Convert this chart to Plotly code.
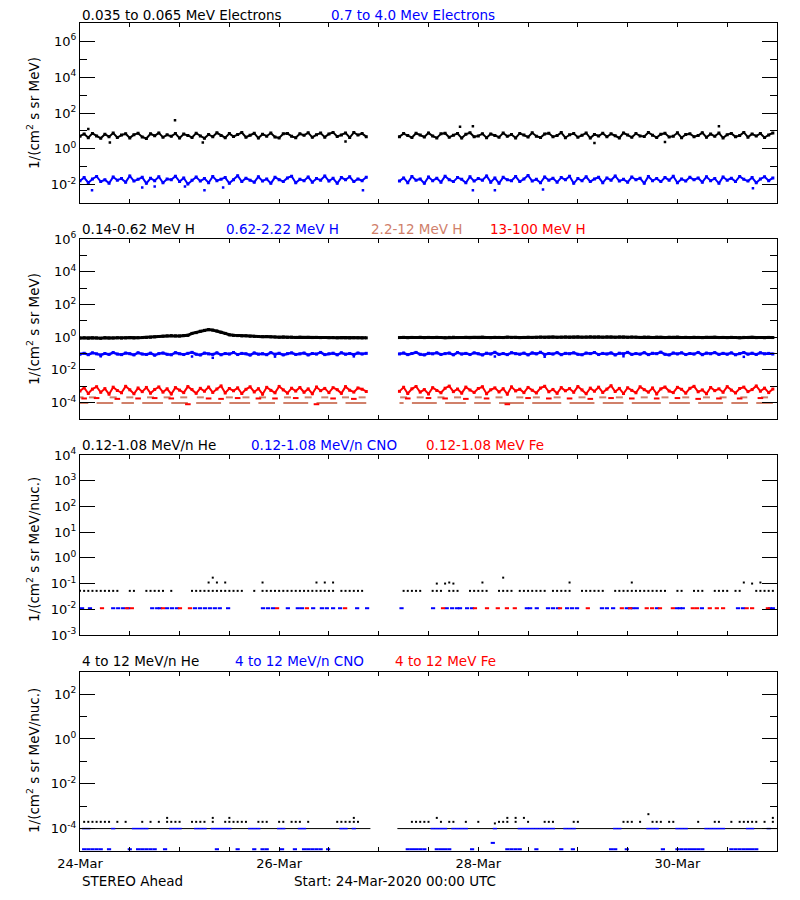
import plotly.graph_objects as go
import pandas as pd

# ---------------------------------------------------------------- data
START = pd.Timestamp("2020-03-24 00:00")
END = pd.Timestamp("2020-03-31 00:00")
SEG_A_START_H = 0      # first data block starts 24-Mar 00:00 (hourly)
SEG_B_START_H = 77     # second block starts after data gap (27-Mar 05:00)

# Panel 1: electrons, 1/(cm2 s sr MeV)
e_low_a = [5.1, 6.8, 4.2, 7.3, 5.3, 3.9, 6.6, 4.8, 7.6, 4.3,
           5.9, 7.0, 4.1, 6.2, 7.4, 4.6, 3.8, 6.9, 5.4, 7.8,
           4.4, 6.1, 5.0, 7.2, 4.0, 6.7, 5.6, 4.3, 7.5, 5.2,
           3.9, 6.4, 4.7, 7.9, 5.5, 4.2, 7.1, 4.9, 6.3, 8.1,
           4.5, 5.8, 7.4, 4.0, 6.6, 5.1, 7.7, 4.6, 4.1, 6.9,
           7.3, 5.0, 4.2, 7.0, 5.7, 8.0, 4.4, 6.2, 7.6, 4.5,
           6.8, 8.3, 4.9, 6.0, 7.8, 4.3, 8.2, 5.9, 7.1, 4.8]
e_low_b = [4.8, 7.1, 5.5, 4.3, 7.4, 6.0, 4.6, 7.8, 5.2, 4.1,
           6.9, 7.5, 4.4, 5.8, 7.2, 4.0, 6.5, 8.0, 4.7, 5.3,
           7.0, 4.2, 6.8, 5.6, 4.5, 7.6, 5.0, 6.3, 4.1, 7.3,
           5.9, 4.6, 7.9, 5.1, 4.3, 6.7, 7.4, 4.8, 5.5, 8.1,
           4.2, 6.1, 7.2, 4.5, 5.7, 7.7, 4.0, 6.4, 5.2, 7.5,
           4.7, 6.9, 5.4, 4.1, 7.8, 6.0, 4.4, 7.1, 5.3, 4.9,
           8.2, 5.8, 4.3, 6.6, 7.4, 4.6, 5.1, 7.9, 4.2, 6.3,
           7.0, 4.8, 5.6, 8.0, 4.4, 6.7, 5.0, 7.6, 4.1, 6.2,
           7.3, 4.7, 5.5, 8.3, 4.5, 6.8, 5.2, 7.2, 4.3, 6.0,
           7.7]
e_low_out_h = [2, 7.2, 22.9, 29.6, 64, 91.6, 94.7, 124, 141, 154]
e_low_out_v = [13, 2.3, 39, 2.3, 2.6, 17, 18, 2.1, 2.4, 18]

e_high_a = [0.017, 0.025, 0.013, 0.021, 0.029, 0.015, 0.019, 0.012, 0.027, 0.018,
            0.022, 0.014, 0.031, 0.016, 0.020, 0.026, 0.012, 0.023, 0.017, 0.028,
            0.013, 0.021, 0.019, 0.030, 0.015, 0.024, 0.011, 0.018, 0.027, 0.016,
            0.022, 0.013, 0.029, 0.017, 0.020, 0.025, 0.012, 0.019, 0.032, 0.015,
            0.023, 0.018, 0.014, 0.028, 0.016, 0.021, 0.012, 0.026, 0.019, 0.015,
            0.024, 0.030, 0.013, 0.020, 0.017, 0.027, 0.014, 0.022, 0.018, 0.031,
            0.016, 0.023, 0.012, 0.025, 0.019, 0.028, 0.015, 0.021, 0.017, 0.026]
e_high_b = [0.016, 0.024, 0.013, 0.029, 0.018, 0.021, 0.012, 0.027, 0.017, 0.023,
            0.014, 0.030, 0.019, 0.015, 0.025, 0.020, 0.013, 0.028, 0.016, 0.022,
            0.018, 0.031, 0.014, 0.024, 0.012, 0.026, 0.019, 0.017, 0.029, 0.015,
            0.021, 0.033, 0.016, 0.020, 0.013, 0.027, 0.018, 0.023, 0.014, 0.025,
            0.019, 0.030, 0.012, 0.022, 0.017, 0.028, 0.015, 0.021, 0.026, 0.013,
            0.024, 0.018, 0.031, 0.016, 0.020, 0.014, 0.027, 0.019, 0.023, 0.012,
            0.029, 0.017, 0.022, 0.015, 0.025, 0.018, 0.030, 0.013, 0.021, 0.016,
            0.026, 0.019, 0.024, 0.014, 0.028, 0.017, 0.022, 0.012, 0.027, 0.018,
            0.023, 0.015, 0.029, 0.020, 0.016, 0.025, 0.013, 0.021, 0.028, 0.017,
            0.024]
e_high_out_h = [2.9, 15, 18, 25.3, 30, 34.5, 68.2, 94.7, 100, 111.6, 162.2]
e_high_out_v = [0.005, 0.007, 0.008, 0.008, 0.005, 0.007, 0.005, 0.005, 0.005, 0.0055, 0.0063]

# Panel 2: protons
h1_a = [0.88, 0.92, 0.87, 0.91, 0.90, 0.86, 0.93, 0.89, 0.90, 0.92,
        0.88, 0.91, 0.94, 0.90, 0.93, 0.95, 0.97, 1.00, 1.05, 1.10,
        1.15, 1.20, 1.25, 1.20, 1.18, 1.25, 1.30, 1.70, 1.90, 2.30,
        2.60, 2.90, 2.70, 2.40, 2.00, 1.70, 1.40, 1.30, 1.25, 1.20,
        1.22, 1.15, 1.12, 1.10, 1.08, 1.10, 1.05, 1.03, 1.00, 1.02,
        0.98, 1.00, 0.97, 0.99, 0.96, 0.98, 0.95, 0.97, 0.94, 0.96,
        0.93, 0.95, 0.92, 0.94, 0.93, 0.91, 0.93, 0.92, 0.90, 0.91]
h1_b = [0.95, 0.98, 0.93, 0.97, 0.96, 0.99, 0.94, 0.97, 0.95, 0.98,
        0.96, 0.93, 0.97, 0.99, 0.95, 0.96, 0.98, 0.94, 0.97, 0.95,
        0.99, 0.96, 0.94, 0.98, 0.97, 0.95, 1.00, 0.96, 0.98, 0.94,
        0.97, 0.99, 0.96, 0.98, 1.01, 0.97, 0.99, 1.02, 0.98, 1.00,
        1.03, 0.99, 1.01, 1.04, 1.00, 1.02, 1.05, 1.01, 1.03, 1.00,
        1.04, 1.02, 0.99, 1.03, 1.01, 0.98, 1.02, 1.00, 0.97, 1.01,
        0.99, 0.96, 1.00, 0.98, 0.95, 0.99, 0.97, 1.00, 0.96, 0.98,
        0.95, 0.99, 0.97, 0.94, 0.98, 0.96, 0.99, 0.95, 0.97, 0.94,
        0.98, 0.96, 0.93, 0.97, 0.95, 0.98, 0.94, 0.96, 0.93, 0.97,
        0.95]

h2_a = [0.092, 0.104, 0.085, 0.110, 0.096, 0.081, 0.101, 0.089, 0.115, 0.093,
        0.086, 0.107, 0.098, 0.083, 0.112, 0.094, 0.088, 0.105, 0.079, 0.099,
        0.108, 0.090, 0.084, 0.113, 0.097, 0.087, 0.103, 0.118, 0.091, 0.082,
        0.106, 0.095, 0.089, 0.111, 0.084, 0.100, 0.093, 0.116, 0.087, 0.102,
        0.096, 0.081, 0.109, 0.092, 0.098, 0.085, 0.114, 0.090, 0.104, 0.083,
        0.099, 0.110, 0.088, 0.095, 0.107, 0.082, 0.101, 0.093, 0.117, 0.086,
        0.097, 0.105, 0.084, 0.112, 0.091, 0.100, 0.087, 0.108, 0.094, 0.103]
h2_b = [0.095, 0.108, 0.086, 0.101, 0.117, 0.090, 0.083, 0.104, 0.096, 0.112,
        0.088, 0.099, 0.107, 0.084, 0.115, 0.093, 0.102, 0.087, 0.110, 0.097,
        0.082, 0.105, 0.094, 0.119, 0.089, 0.100, 0.086, 0.113, 0.098, 0.091,
        0.106, 0.083, 0.109, 0.096, 0.120, 0.088, 0.101, 0.093, 0.114, 0.085,
        0.103, 0.097, 0.111, 0.090, 0.084, 0.107, 0.099, 0.116, 0.087, 0.102,
        0.094, 0.109, 0.082, 0.105, 0.096, 0.118, 0.089, 0.100, 0.092, 0.113,
        0.086, 0.104, 0.098, 0.121, 0.090, 0.083, 0.108, 0.095, 0.111, 0.087,
        0.101, 0.093, 0.117, 0.085, 0.106, 0.097, 0.114, 0.089, 0.103, 0.091,
        0.110, 0.084, 0.099, 0.116, 0.092, 0.105, 0.088, 0.112, 0.096, 0.102,
        0.094]
h2_out_h = [5, 27, 32, 47, 66, 100, 112, 131, 160]
h2_out_v = [0.068, 0.066, 0.055, 0.065, 0.067, 0.066, 0.064, 0.068, 0.063]

h4_a = [5.2e-4, 8.1e-4, 3.6e-4, 6.7e-4, 9.4e-4, 4.3e-4, 7.2e-4, 3.3e-4, 8.8e-4, 5.5e-4,
        4.0e-4, 9.9e-4, 6.1e-4, 3.5e-4, 7.8e-4, 4.7e-4, 8.5e-4, 3.8e-4, 6.4e-4, 9.1e-4,
        4.4e-4, 7.0e-4, 3.4e-4, 8.3e-4, 5.8e-4, 4.1e-4, 9.6e-4, 6.3e-4, 3.7e-4, 7.5e-4,
        5.0e-4, 8.9e-4, 4.2e-4, 6.8e-4, 1.05e-3, 3.9e-4, 7.3e-4, 5.3e-4, 8.0e-4, 3.6e-4,
        6.5e-4, 9.3e-4, 4.5e-4, 7.1e-4, 3.3e-4, 8.6e-4, 5.6e-4, 4.0e-4, 9.8e-4, 6.0e-4,
        3.8e-4, 7.6e-4, 5.1e-4, 8.4e-4, 4.3e-4, 6.9e-4, 3.5e-4, 9.0e-4, 5.4e-4, 7.4e-4,
        4.1e-4, 8.2e-4, 6.2e-4, 3.7e-4, 9.5e-4, 5.7e-4, 4.4e-4, 7.9e-4, 6.6e-4, 4.8e-4]
h4_b = [4.9e-4, 8.7e-4, 3.6e-4, 7.0e-4, 9.7e-4, 4.4e-4, 6.3e-4, 3.4e-4, 8.2e-4, 5.5e-4,
        4.0e-4, 7.6e-4, 1.02e-3, 4.7e-4, 6.8e-4, 3.8e-4, 8.9e-4, 5.9e-4, 4.2e-4, 7.3e-4,
        9.4e-4, 3.5e-4, 6.1e-4, 8.0e-4, 4.5e-4, 7.1e-4, 3.3e-4, 9.2e-4, 5.2e-4, 6.6e-4,
        4.1e-4, 8.5e-4, 5.7e-4, 3.9e-4, 7.8e-4, 1.0e-3, 4.6e-4, 6.4e-4, 3.7e-4, 8.3e-4,
        5.3e-4, 7.2e-4, 4.3e-4, 9.6e-4, 6.0e-4, 3.5e-4, 7.7e-4, 5.0e-4, 8.8e-4, 4.2e-4,
        6.7e-4, 1.08e-3, 4.8e-4, 7.4e-4, 3.6e-4, 8.1e-4, 5.6e-4, 4.0e-4, 9.3e-4, 6.2e-4,
        4.4e-4, 7.9e-4, 3.4e-4, 6.9e-4, 9.0e-4, 5.1e-4, 4.1e-4, 8.6e-4, 6.5e-4, 3.8e-4,
        7.5e-4, 9.9e-4, 4.6e-4, 6.0e-4, 3.5e-4, 8.4e-4, 5.4e-4, 7.0e-4, 4.3e-4, 9.5e-4,
        5.8e-4, 3.9e-4, 7.3e-4, 8.9e-4, 4.7e-4, 6.3e-4, 1.04e-3, 5.0e-4, 7.7e-4, 4.1e-4,
        6.8e-4]
h4_low_h = [1, 4, 9, 14, 18, 22, 26, 31, 34, 38, 43, 47, 52, 57, 61, 66,
            79, 84, 88, 93, 98, 103, 108, 113, 118, 123, 128, 133, 139, 144, 149, 154, 159, 164]
h4_low_v = [1.8e-4, 1.9e-4, 1.7e-4, 1.8e-4, 1.9e-4, 1.8e-4, 8.0e-5, 1.8e-4, 1.7e-4, 1.9e-4,
            1.8e-4, 1.8e-4, 1.9e-4, 8.0e-5, 1.8e-4, 1.7e-4,
            1.8e-4, 1.9e-4, 1.8e-4, 1.7e-4, 1.8e-4, 8.0e-5, 1.9e-4, 1.8e-4, 1.8e-4, 1.7e-4,
            1.9e-4, 1.8e-4, 1.8e-4, 1.9e-4, 1.7e-4, 1.8e-4, 1.8e-4, 1.9e-4]

h3_a = [9.5e-5, 9.5e-5, 9.5e-5, None, 9.5e-5, 9.5e-5, 9.5e-5, 9.5e-5, 9.5e-5, None,
        9.5e-5, 9.5e-5, 9.5e-5, 9.5e-5, None, 9.5e-5, 9.5e-5, 9.5e-5, 9.5e-5, 9.5e-5,
        9.5e-5, None, 9.5e-5, 9.5e-5, 9.5e-5, 9.5e-5, 9.5e-5, None, 9.5e-5, 9.5e-5,
        9.5e-5, 9.5e-5, 9.5e-5, 9.5e-5, 9.5e-5, None, 9.5e-5, 9.5e-5, 9.5e-5, 9.5e-5,
        9.5e-5, 9.5e-5, None, 9.5e-5, 9.5e-5, 9.5e-5, 9.5e-5, 9.5e-5, None, 9.5e-5,
        9.5e-5, 9.5e-5, 9.5e-5, 9.5e-5, 9.5e-5, 9.5e-5, None, 9.5e-5, 9.5e-5, 9.5e-5,
        9.5e-5, 9.5e-5, 9.5e-5, None, 9.5e-5, 9.5e-5, 9.5e-5, 9.5e-5, 9.5e-5, 9.5e-5]
h3_b = [9.5e-5, 9.5e-5, None, 9.5e-5, 9.5e-5, 9.5e-5, 9.5e-5, 9.5e-5, 9.5e-5, 9.5e-5,
        None, 9.5e-5, 9.5e-5, 9.5e-5, 9.5e-5, 9.5e-5, 9.5e-5, None, 9.5e-5, 9.5e-5,
        9.5e-5, 9.5e-5, 9.5e-5, None, 9.5e-5, 9.5e-5, 9.5e-5, 9.5e-5, 9.5e-5, 9.5e-5,
        9.5e-5, None, 9.5e-5, 9.5e-5, 9.5e-5, 9.5e-5, 9.5e-5, 9.5e-5, 9.5e-5, 9.5e-5,
        None, 9.5e-5, 9.5e-5, 9.5e-5, 9.5e-5, 9.5e-5, 9.5e-5, 9.5e-5, None, 9.5e-5,
        9.5e-5, 9.5e-5, 9.5e-5, 9.5e-5, 9.5e-5, None, 9.5e-5, 9.5e-5, 9.5e-5, 9.5e-5,
        9.5e-5, 9.5e-5, 9.5e-5, 9.5e-5, None, 9.5e-5, 9.5e-5, 9.5e-5, 9.5e-5, 9.5e-5,
        9.5e-5, None, 9.5e-5, 9.5e-5, 9.5e-5, 9.5e-5, 9.5e-5, 9.5e-5, 9.5e-5, None,
        9.5e-5, 9.5e-5, 9.5e-5, 9.5e-5, 9.5e-5, None, 9.5e-5, 9.5e-5, 9.5e-5, 9.5e-5,
        9.5e-5]
h3_up_h = [0, 3, 8, 12, 17, 21, 25, 29, 36, 40, 44, 50, 55, 59, 64, 68,
           78, 82, 87, 91, 96, 101, 106, 110, 115, 121, 126, 130, 136, 141, 146, 151, 155, 160, 165]
h3_up_v = [2.1e-4, 2.1e-4, 2.1e-4, 2.1e-4, 2.1e-4, 2.1e-4, 2.1e-4, 2.1e-4, 2.1e-4, 2.1e-4,
           2.1e-4, 2.1e-4, 2.1e-4, 2.1e-4, 2.1e-4, 2.1e-4,
           2.1e-4, 2.1e-4, 2.1e-4, 2.1e-4, 2.1e-4, 2.1e-4, 2.1e-4, 2.1e-4, 2.1e-4, 2.1e-4,
           2.1e-4, 2.1e-4, 2.1e-4, 2.1e-4, 2.1e-4, 2.1e-4, 2.1e-4, 2.1e-4, 2.1e-4]

# Panel 3: low energy heavy ions, 1/(cm2 s sr MeV/nuc.)
he_lo_h = [0, 1, 2, 3, 4, 5, 6, 7, 8, 9, 12, 13, 16, 17, 18, 19, 20, 22,
           27, 28, 29, 30, 31, 32, 33, 34, 35, 36, 37, 38, 39, 42,
           44, 45, 46, 47, 48, 49, 50, 51, 52, 53, 54, 55, 56, 57, 58, 59, 60, 61,
           63, 64, 65, 66, 67, 68, 78, 79, 80, 81, 82, 85, 86, 87, 89, 90, 91,
           94, 95, 96, 97, 98, 101, 102, 103, 104, 106, 107, 108, 109, 110, 111, 112,
           114, 115, 116, 117, 118, 121, 122, 123, 124, 125, 126,
           129, 130, 131, 132, 133, 134, 135, 136, 137, 138, 139, 140, 141,
           144, 145, 148, 149, 150, 153, 154, 155, 156, 158, 159, 163, 164, 165, 166, 167]
he_lo_v = [0.052, 0.052, 0.052, 0.052, 0.052, 0.052, 0.052, 0.052, 0.052, 0.052,
           0.052, 0.052, 0.052, 0.052, 0.052, 0.052, 0.052, 0.052, 0.052, 0.052,
           0.052, 0.052, 0.052, 0.052, 0.052, 0.052, 0.052, 0.052, 0.052, 0.052,
           0.052, 0.052, 0.052, 0.052, 0.052, 0.052, 0.052, 0.052, 0.052, 0.052,
           0.052, 0.052, 0.052, 0.052, 0.052, 0.052, 0.052, 0.052, 0.052, 0.052,
           0.052, 0.052, 0.052, 0.052, 0.052, 0.052, 0.052, 0.052, 0.052, 0.052,
           0.052, 0.052, 0.052, 0.052, 0.052, 0.052, 0.052, 0.052, 0.052, 0.052,
           0.052, 0.052, 0.052, 0.052, 0.052, 0.052, 0.052, 0.052, 0.052, 0.052,
           0.052, 0.052, 0.052, 0.052, 0.052, 0.052, 0.052, 0.052, 0.052, 0.052,
           0.052, 0.052, 0.052, 0.052, 0.052, 0.052, 0.052, 0.052, 0.052, 0.052,
           0.052, 0.052, 0.052, 0.052, 0.052, 0.052, 0.052, 0.052, 0.052, 0.052,
           0.052, 0.052, 0.052, 0.052, 0.052, 0.052, 0.052, 0.052, 0.052, 0.052,
           0.052, 0.052, 0.052]
he_hi_h = [31, 32, 33, 35, 44, 57, 59, 61, 86, 88, 89, 90, 97, 102, 118, 133, 160, 162, 164]
he_hi_v = [0.11, 0.17, 0.11, 0.11, 0.11, 0.11, 0.11, 0.11, 0.10, 0.10,
           0.11, 0.10, 0.11, 0.17, 0.11, 0.11, 0.11, 0.10, 0.11]
cno_lo_h = [0.5, 2.4, 8.0, 9.2, 10.4, 11.6, 17.4, 18.6, 19.3, 21.0,
            22.2, 23.4, 27.7, 28.9, 30.1, 31.3, 32.5, 33.7, 35.7, 44.1,
            45.3, 46.5, 50.1, 52.5, 53.5, 56.2, 58.3, 59.5, 61.0, 62.7,
            66.8, 69.2, 77.5, 85.1, 88.4, 89.7, 90.9, 91.6, 93.3, 94.5,
            107.7, 108.5, 110.1, 112.8, 114.0, 115.2, 117.4, 118.6, 119.8, 125.8,
            127.0, 128.5, 131.8, 132.6, 133.3, 134.2, 139.1, 143.9, 144.6, 145.3,
            149.9, 158.6, 159.8, 166.3, 167.0]
cno_lo_v = [0.011, 0.011, 0.011, 0.011, 0.011, 0.011, 0.011, 0.011, 0.011, 0.011,
            0.011, 0.011, 0.011, 0.011, 0.011, 0.011, 0.011, 0.011, 0.011, 0.011,
            0.011, 0.011, 0.011, 0.011, 0.011, 0.011, 0.011, 0.011, 0.011, 0.011,
            0.011, 0.011, 0.011, 0.011, 0.011, 0.011, 0.011, 0.011, 0.011, 0.011,
            0.011, 0.011, 0.011, 0.011, 0.011, 0.011, 0.011, 0.011, 0.011, 0.011,
            0.011, 0.011, 0.011, 0.011, 0.011, 0.011, 0.011, 0.011, 0.011, 0.011,
            0.011, 0.011, 0.011, 0.011, 0.011]
fe_lo_h = [5.3, 11.3, 12.5, 20.0, 24.1, 26.5, 47.5, 54.7, 63.9, 87.5,
           95.2, 98.1, 100.7, 102.9, 104.8, 115.7, 122.4, 130.6, 132.6, 136.6,
           137.9, 139.8, 142.9, 147.7, 148.7, 151.8, 153.5, 155.0, 160.7, 162.0,
           165.8]
fe_lo_v = [0.011, 0.011, 0.011, 0.011, 0.011, 0.011, 0.011, 0.011, 0.011, 0.011,
           0.011, 0.011, 0.011, 0.011, 0.011, 0.011, 0.011, 0.011, 0.011, 0.011,
           0.011, 0.011, 0.011, 0.011, 0.011, 0.011, 0.011, 0.011, 0.011, 0.011,
           0.011]

# Panel 4: 4-12 MeV/n ions
he4_h = [1, 2, 3, 4, 5, 6, 7, 9, 11, 15, 17, 19, 21, 22, 23, 24, 27, 28, 29, 30,
         32, 35, 36, 37, 38, 39, 40, 43, 44, 45, 48, 49, 51, 52, 53, 55,
         62, 63, 64, 65, 66, 67, 80, 81, 82, 83, 84, 87, 89, 90, 93, 96,
         100, 101, 102, 103, 105, 108, 112, 113, 114, 119, 120, 131, 132, 133, 135,
         138, 139, 140, 142, 143, 149, 153, 154, 157, 159, 160, 161, 162, 163, 165, 167]
he4_v = [2e-4, 2e-4, 2e-4, 2e-4, 2e-4, 2e-4, 2e-4, 2e-4, 2e-4, 2e-4,
         2e-4, 2e-4, 2e-4, 2e-4, 2e-4, 2e-4, 2e-4, 2e-4, 2e-4, 2e-4,
         2e-4, 2e-4, 2e-4, 2e-4, 2e-4, 2e-4, 2e-4, 2e-4, 2e-4, 2e-4,
         2e-4, 2e-4, 2e-4, 2e-4, 2e-4, 2e-4, 2e-4, 2e-4, 2e-4, 2e-4,
         2e-4, 2e-4, 2e-4, 2e-4, 2e-4, 2e-4, 2e-4, 2e-4, 2e-4, 2e-4,
         2e-4, 2e-4, 1.7e-4, 2e-4, 2e-4, 2e-4, 2e-4, 2e-4, 2e-4, 2e-4,
         2e-4, 2e-4, 2e-4, 2e-4, 2e-4, 2e-4, 2e-4, 2e-4, 2e-4, 2e-4,
         2e-4, 2e-4, 2e-4, 2e-4, 2e-4, 2e-4, 2e-4, 2e-4, 2e-4, 2e-4,
         2e-4, 2e-4, 2e-4]
he4_hi_h = [21, 32, 36, 66, 86, 103, 105, 107, 137, 167]
he4_hi_v = [3e-4, 3e-4, 3e-4, 3e-4, 3e-4, 3e-4, 3e-4, 3e-4, 4.4e-4, 3e-4]
he4_floor_t = ["2020-03-24 00:00", "2020-03-26 22:00", None, "2020-03-27 04:30", "2020-03-31 00:00"]
he4_floor_v = [1e-4, 1e-4, None, 1e-4, 1e-4]
cno4_mid_h = [1, 2, 8, 13, 14, 15, 16, 22, 23, 24, 28, 29, 30, 32, 33, 34, 35, 36,
              41, 42, 43, 48, 49, 53, 54, 63, 64, 66, 85, 86, 87, 88, 90, 91, 92, 93,
              100, 106, 107, 108, 109, 110, 111, 112, 113, 114, 117, 118, 119,
              129, 130, 137, 138, 139, 144, 145, 146, 151, 152, 153, 154, 155, 161, 162, 166]
cno4_mid_v = [1e-4, 1e-4, 1e-4, 1e-4, 1e-4, 1e-4, 1e-4, 1e-4, 1e-4, 1e-4,
              1e-4, 1e-4, 1e-4, 1e-4, 1e-4, 1e-4, 1e-4, 1e-4, 1e-4, 1e-4,
              1e-4, 1e-4, 1e-4, 1e-4, 1e-4, 1e-4, 1e-4, 1e-4, 1e-4, 1e-4,
              1e-4, 1e-4, 1e-4, 1e-4, 1e-4, 1e-4, 1e-4, 1e-4, 1e-4, 1e-4,
              1e-4, 1e-4, 1e-4, 1e-4, 1e-4, 1e-4, 1e-4, 1e-4, 1e-4, 1e-4,
              1e-4, 1e-4, 1e-4, 1e-4, 1e-4, 1e-4, 1e-4, 1e-4, 1e-4, 1e-4,
              1e-4, 1e-4, 1e-4, 1e-4, 1e-4]
cno4_low_h = [1, 2, 3, 4, 5, 7, 12, 14, 15, 16, 17, 18, 20.5, 33, 38, 42, 44, 45,
              48.7, 51.8, 54, 55, 56, 57, 58, 59.8, 79, 80, 81, 82, 83, 86, 87, 88, 89,
              94.5, 99.5, 103, 104, 105, 106, 110, 116, 118.8, 128, 129, 131.8, 140.5,
              144, 145, 146, 147, 148, 149, 150, 157, 158, 159, 160, 161, 162, 163]
cno4_low_v = [1.2e-5, 1.2e-5, 1.2e-5, 1.2e-5, 1.2e-5, 1.2e-5, 1.2e-5, 1.2e-5, 1.2e-5, 1.2e-5,
              1.2e-5, 1.2e-5, 1.2e-5, 1.2e-5, 1.2e-5, 1.2e-5, 1.2e-5, 1.2e-5, 1.2e-5, 1.2e-5,
              1.2e-5, 1.2e-5, 1.2e-5, 1.2e-5, 1.2e-5, 1.2e-5, 1.2e-5, 1.2e-5, 1.2e-5, 1.2e-5,
              1.2e-5, 1.2e-5, 1.2e-5, 1.2e-5, 1.2e-5, 1.2e-5, 2.3e-5, 1.2e-5, 1.2e-5, 1.2e-5,
              1.2e-5, 1.2e-5, 1.2e-5, 1.2e-5, 1.2e-5, 1.2e-5, 1.2e-5, 1.2e-5, 1.2e-5, 1.2e-5,
              1.2e-5, 1.2e-5, 1.2e-5, 1.2e-5, 1.2e-5, 1.2e-5, 1.2e-5, 1.2e-5, 1.2e-5, 1.2e-5,
              1.2e-5, 1.2e-5]

# ---------------------------------------------------------------- styles
BLACK, BLUE, RED, BROWN = "#000000", "#0000FF", "#FF0000", "#D0806A"
FONT = "DejaVu Sans"
OFF = 8                      # the page body margin shifts the figure by 8 px
W, H = 800 - OFF, 900 - OFF  # figure size that fills the rest of the window
PX_L, PX_R = 80, 777
PANELS = [(23.3, 202.7), (239, 419), (455, 635), (671.7, 851)]


def fx(px):
    return (px - OFF) / W


def fy(py):
    return 1 - (py - OFF) / H


def tstr(h):
    return (START + pd.Timedelta(hours=h)).strftime("%Y-%m-%d %H:%M:%S")


def at_hours(hours):
    return [tstr(h) for h in hours]


def two_seg(a, b):
    x = [tstr(SEG_A_START_H + i) for i in range(len(a))] + [None] + \
        [tstr(SEG_B_START_H + i) for i in range(len(b))]
    y = list(a) + [None] + list(b)
    return x, y


fig = go.Figure()


def ax(i):
    return ("x" if i == 1 else f"x{i}"), ("y" if i == 1 else f"y{i}")


def band(i, a, b, color, lw=2, ms=3):
    x, y = two_seg(a, b)
    xa, ya = ax(i)
    fig.add_trace(go.Scatter(x=x, y=y, mode="lines+markers", xaxis=xa, yaxis=ya,
                             line=dict(color=color, width=lw),
                             marker=dict(color=color, size=ms, symbol="square"),
                             hoverinfo="skip"))


def dots(i, hours, vals, color, size=2, symbol="square", lw=1.5):
    xa, ya = ax(i)
    mk = dict(color=color, size=size, symbol=symbol)
    if symbol == "line-ew":
        mk["line"] = dict(color=color, width=lw)
    fig.add_trace(go.Scatter(x=at_hours(hours), y=vals, mode="markers", xaxis=xa, yaxis=ya,
                             marker=mk, hoverinfo="skip"))


# Panel 1
band(1, e_low_a, e_low_b, BLACK)
dots(1, e_low_out_h, e_low_out_v, BLACK, 2.5)
band(1, e_high_a, e_high_b, BLUE)
dots(1, e_high_out_h, e_high_out_v, BLUE, 2.5)

# Panel 2
xb, yb = two_seg(h3_a, h3_b)
fig.add_trace(go.Scatter(x=xb, y=yb, mode="lines", xaxis="x2", yaxis="y2", connectgaps=False,
                         line=dict(color=BROWN, width=2), hoverinfo="skip"))
dots(2, h3_up_h, h3_up_v, BROWN, 5, "line-ew", 2)
band(2, h4_a, h4_b, RED, 2, 3)
dots(2, h4_low_h, h4_low_v, RED, 4, "line-ew", 2)
band(2, h2_a, h2_b, BLUE, 2.5, 3)
dots(2, h2_out_h, h2_out_v, BLUE, 2.5)
band(2, h1_a, h1_b, BLACK, 3, 3)

# Panel 3
dots(3, he_lo_h, he_lo_v, BLACK, 2)
dots(3, he_hi_h, he_hi_v, BLACK, 2)
dots(3, cno_lo_h, cno_lo_v, BLUE, 3, "line-ew", 2)
dots(3, fe_lo_h, fe_lo_v, RED, 3, "line-ew", 2)

# Panel 4
fig.add_trace(go.Scatter(x=he4_floor_t, y=he4_floor_v, mode="lines", xaxis="x4", yaxis="y4",
                         line=dict(color=BLACK, width=1), hoverinfo="skip"))
dots(4, he4_h, he4_v, BLACK, 2)
dots(4, he4_hi_h, he4_hi_v, BLACK, 2)
dots(4, cno4_mid_h, cno4_mid_v, BLUE, 3, "line-ew", 1.5)
dots(4, cno4_low_h, cno4_low_v, BLUE, 3, "line-ew", 2)

# ---------------------------------------------------------------- axes
def sup(e):
    return f"10<sup>{e}</sup>"

ycfg = [
    dict(lo=-3, hi=7, major=[-2, 0, 2, 4, 6], minor=[-1, 1, 3, 5]),
    dict(lo=-5, hi=6, major=[-4, -2, 0, 2, 4, 6], minor=[-3, -1, 1, 3, 5]),
    dict(lo=-3, hi=4, major=[-3, -2, -1, 0, 1, 2, 3, 4], minor=[]),
    dict(lo=-5, hi=3, major=[-4, -2, 0, 2], minor=[-3, -1, 1]),
]

layout_axes = {}
for i, ((top, bot), yc) in enumerate(zip(PANELS, ycfg), start=1):
    xk = "xaxis" if i == 1 else f"xaxis{i}"
    yk = "yaxis" if i == 1 else f"yaxis{i}"
    xa, ya = ax(i)
    layout_axes[xk] = dict(
        domain=[fx(PX_L), fx(PX_R)], anchor=ya, type="date", automargin=False,
        range=[START.strftime("%Y-%m-%d"), END.strftime("%Y-%m-%d")],
        tick0=START.strftime("%Y-%m-%d"), dtick=2 * 86400000, tickformat="%d-%b",
        ticks="inside", ticklen=4, tickwidth=1, tickcolor=BLACK,
        showline=True, linecolor=BLACK, linewidth=1, mirror="allticks",
        showgrid=False, zeroline=False, showticklabels=(i == 4),
        tickfont=dict(family=FONT, size=13, color=BLACK),
        minor=dict(dtick=12 * 3600000, ticks="inside", ticklen=4, tickcolor=BLACK, showgrid=False),
    )
    ydict = dict(
        domain=[fy(bot), fy(top)], anchor=xa, type="log", automargin=False,
        range=[yc["lo"], yc["hi"]], tickmode="array",
        tickvals=[10.0 ** e for e in yc["major"]], ticktext=[sup(e) for e in yc["major"]],
        ticks="inside", ticklen=15, tickwidth=1, tickcolor=BLACK,
        showline=True, linecolor=BLACK, linewidth=1, mirror="allticks",
        showgrid=False, zeroline=False,
        tickfont=dict(family=FONT, size=13, color=BLACK),
    )
    if yc["minor"]:
        ydict["minor"] = dict(tickmode="array", tickvals=[10.0 ** e for e in yc["minor"]],
                              ticks="inside", ticklen=7, tickcolor=BLACK, showgrid=False)
    layout_axes[yk] = ydict

# ---------------------------------------------------------------- text
titles = [
    (15, [("0.035 to 0.065 MeV Electrons", 80, BLACK), ("0.7 to 4.0 Mev Electrons", 329, BLUE)]),
    (229, [("0.14-0.62 MeV H", 80, BLACK), ("0.62-2.22 MeV H", 224, BLUE),
           ("2.2-12 MeV H", 369, BROWN), ("13-100 MeV H", 488, RED)]),
    (445, [("0.12-1.08 MeV/n He", 80, BLACK), ("0.12-1.08 MeV/n CNO", 249, BLUE),
           ("0.12-1.08 MeV Fe", 424, RED)]),
    (661, [("4 to 12 MeV/n He", 80, BLACK), ("4 to 12 MeV/n CNO", 233, BLUE),
           ("4 to 12 MeV Fe", 393, RED)]),
]
ann = []
for yc_px, items in titles:
    for txt, xpx, col in items:
        ann.append(dict(text=txt, x=fx(xpx), y=fy(yc_px), xref="paper", yref="paper",
                        xanchor="left", yanchor="middle", showarrow=False,
                        font=dict(family=FONT, size=13.5, color=col)))

ytitles = [(113, "1/(cm<sup>2</sup> s sr MeV)"), (329, "1/(cm<sup>2</sup> s sr MeV)"),
           (550, "1/(cm<sup>2</sup> s sr MeV/nuc.)"), (761, "1/(cm<sup>2</sup> s sr MeV/nuc.)")]
for ypx, txt in ytitles:
    ann.append(dict(text=txt, x=fx(33), y=fy(ypx), xref="paper", yref="paper",
                    xanchor="center", yanchor="middle", textangle=-90, showarrow=False,
                    font=dict(family=FONT, size=13.5, color=BLACK)))

ann.append(dict(text="STEREO Ahead", x=fx(80), y=fy(881), xref="paper", yref="paper",
                xanchor="left", yanchor="middle", showarrow=False,
                font=dict(family=FONT, size=13.5, color=BLACK)))
ann.append(dict(text="Start: 24-Mar-2020 00:00 UTC", x=fx(292), y=fy(881), xref="paper",
                yref="paper", xanchor="left", yanchor="middle", showarrow=False,
                font=dict(family=FONT, size=13.5, color=BLACK)))

fig.update_layout(width=W, height=H, margin=dict(l=0, r=0, t=0, b=0, pad=0),
                  paper_bgcolor="white", plot_bgcolor="white", showlegend=False,
                  annotations=ann, **layout_axes)

fig.write_html("out.html")
